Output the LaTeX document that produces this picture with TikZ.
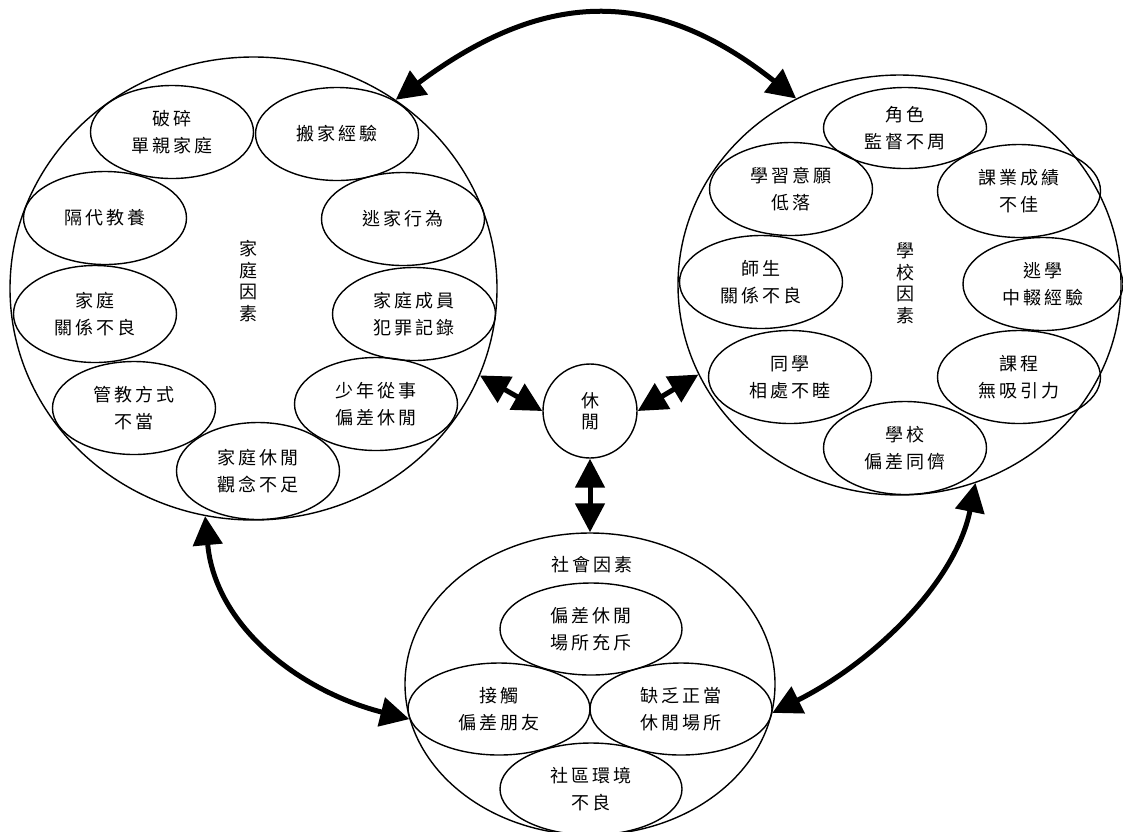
\documentclass[tikz,border=0pt]{standalone}
\usepackage{fontspec}
\setmainfont{Noto Sans CJK TC}[LetterSpace=18]
\usetikzlibrary{shapes.geometric,arrows.meta}
\tikzset{
  big/.style={draw, ellipse, line width=1.4pt, inner sep=0pt},
  item/.style={draw, ellipse, line width=1.4pt, inner sep=0pt, align=center,
    minimum width=163pt, minimum height=93pt, font=\fontsize{18}{27}\selectfont},
  sitem/.style={item, minimum width=182pt, minimum height=92pt},
  vtitle/.style={align=center, inner sep=0pt, font=\fontsize{18}{21.5}\selectfont},
  biarrow/.style={line width=5pt,
    {Triangle[length=29pt,width=29pt]}-{Triangle[length=29pt,width=29pt]}},
}
\begin{document}
\begin{tikzpicture}[x=1pt,y=-1pt]
\useasboundingbox (0,0) rectangle (1123,831);
% big circles
\node[big, minimum width=487pt, minimum height=463pt] (fam) at (253.5,288.5) {};
\node[big, minimum width=443pt, minimum height=420pt] (sch) at (899.5,285) {};
\node[big, minimum width=370pt, minimum height=302pt] (soc) at (590,684) {};
\node[big, circle, minimum size=94pt, vtitle] (leis) at (590,411) {休\\閒};
% titles
\node[vtitle] (famt) at (248,281) {家\\庭\\因\\素};
\node[vtitle] (scht) at (905,283) {學\\校\\因\\素};
\node[inner sep=0pt, font=\fontsize{18}{21}\selectfont] (soct) at (592,565) {社會因素};
% family items
\node[item] (f1) at (172,132) {破碎\\單親家庭};
\node[item] (f2) at (337,134) {搬家經驗};
\node[item] (f3) at (105,218) {隔代教養};
\node[item] (f4) at (403,219) {逃家行為};
\node[item, minimum height=97pt] (f5) at (95,314) {家庭\\關係不良};
\node[item] (f6) at (414,314) {家庭成員\\犯罪記錄};
\node[item] (f7) at (134,408) {管教方式\\不當};
\node[item] (f8) at (376,404) {少年從事\\偏差休閒};
\node[item, minimum height=97pt] (f9) at (258,471) {家庭休閒\\觀念不足};
% school items
\node[item, minimum height=81pt] (s1) at (905,128) {角色\\監督不周};
\node[item] (s2) at (791,189) {學習意願\\低落};
\node[item] (s3) at (1019,191) {課業成績\\不佳};
\node[item] (s4) at (761,282) {師生\\關係不良};
\node[item, minimum width=160pt] (s5) at (1043,284) {逃學\\中輟經驗};
\node[item] (s6) at (790,377) {同學\\相處不睦};
\node[item] (s7) at (1019,377) {課程\\無吸引力};
\node[item] (s8) at (905,448) {學校\\偏差同儕};
% social items
\node[sitem] (c1) at (591,629) {偏差休閒\\場所充斥};
\node[sitem] (c2) at (499,709) {接觸\\偏差朋友};
\node[sitem] (c3) at (681,709) {缺乏正當\\休閒場所};
\node[sitem] (c4) at (591,789) {社區環境\\不良};
% arrows
\draw[biarrow] (fam.53.4) .. controls +(145,-108) and +(-145,-115) .. (sch.119.5);
\draw[biarrow] (fam.258.8) .. controls +(10,110) and +(-110,-28) .. (soc.191.5);
\draw[biarrow] (sch.291) .. controls +(-20,100) and +(100,-50) .. (soc.351.1);
\draw[biarrow] (fam.-21) -- (leis.180);
\draw[biarrow] (leis.0) -- (sch.204.3);
\draw[biarrow] (leis.south) -- (soc.north);
\end{tikzpicture}
\end{document}
